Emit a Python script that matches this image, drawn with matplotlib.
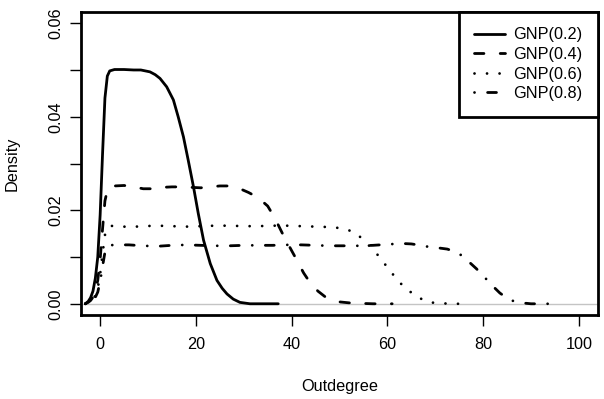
import matplotlib
matplotlib.use('Agg')
import matplotlib.pyplot as plt

plt.rcParams['font.family'] = ['Liberation Sans', 'DejaVu Sans']

# density curves (outdegree vs density)
x_02 = [-3.1, -2.5, -2.0, -1.5, -1.0, -0.5, 0.0, 0.5, 1.0, 1.5, 2.0, 3.0, 5.0, 7.0, 8.5,
        10.4, 11.5, 12.5, 13.9, 15.3, 16.3, 17.4, 18.4, 19.5, 20.5, 21.6, 23.0, 24.4, 25.5,
        26.5, 27.8, 29.2, 31.3, 34.0, 37.2]
y_02 = [0.0, 0.0005, 0.0013, 0.0027, 0.0055, 0.0100, 0.0190, 0.0320, 0.0440, 0.0487, 0.0498,
        0.0501, 0.0501, 0.0500, 0.0500, 0.0496, 0.0490, 0.0482, 0.0464, 0.0436, 0.0400, 0.0357,
        0.0307, 0.0250, 0.0193, 0.0136, 0.0086, 0.0050, 0.0033, 0.0021, 0.0010, 0.0003, 0.0,
        0.0, 0.0]

x_04 = [-3.1, -2.5, -2.0, -1.5, -1.0, -0.5, 0.0, 0.5, 1.0, 1.5, 2.0, 3.0, 5, 7, 9, 11, 13,
        15, 17, 19, 21, 23, 25, 27, 29, 31, 33, 35, 36.5, 38, 39.5, 41, 42.5, 44, 45.5, 47,
        48.5, 50, 52, 54, 57, 61]
y_04 = [0.0, 0.0003, 0.0007, 0.0014, 0.0028, 0.0050, 0.0095, 0.0160, 0.0220, 0.0243, 0.0250,
        0.0252, 0.0253, 0.0250, 0.0246, 0.0246, 0.0249, 0.0250, 0.0250, 0.0249, 0.0248, 0.0250,
        0.0252, 0.0252, 0.0247, 0.0238, 0.0227, 0.0209, 0.0183, 0.0152, 0.0123, 0.0095, 0.0066,
        0.0043, 0.0027, 0.0015, 0.0008, 0.0004, 0.0002, 0.0001, 0.0, 0.0]

x_06 = [-3.1, -2.5, -2.0, -1.5, -1.0, -0.5, 0.0, 0.5, 1.0, 1.5, 2.0, 3, 6, 9, 12, 15, 18, 21,
        24, 27, 30, 33, 36, 39, 42, 45, 48, 50, 52, 53.6, 55.3, 57.4, 59, 60.7, 62.3, 64.2,
        66.5, 68.9, 71, 74, 77]
y_06 = [0.0, 0.0002, 0.0004, 0.0009, 0.0018, 0.0033, 0.0063, 0.0107, 0.0147, 0.0162, 0.0166,
        0.0167, 0.0164, 0.0166, 0.0167, 0.0166, 0.0165, 0.0166, 0.0167, 0.0167, 0.0166, 0.0166,
        0.0167, 0.0167, 0.0166, 0.0165, 0.0164, 0.0162, 0.0157, 0.0150, 0.0133, 0.0112, 0.0091,
        0.0069, 0.0048, 0.0030, 0.0013, 0.0003, 0.0001, 0.0, 0.0]

x_08 = [-3.1, -2.5, -2.0, -1.5, -1.0, -0.5, 0.0, 0.5, 1.0, 1.5, 2.0, 3, 6, 9, 12, 15, 18, 21,
        24, 27, 30, 33, 36, 39, 42, 45, 48, 51, 54, 57, 60, 63, 65, 67, 69, 71, 72.5, 74, 75.6,
        77, 78.6, 80, 81, 82.3, 83.5, 85, 86.5, 88, 90, 93.6]
y_08 = [0.0, 0.0001, 0.0003, 0.0007, 0.0014, 0.0025, 0.0048, 0.0080, 0.0110, 0.0122, 0.0125,
        0.0126, 0.0126, 0.0124, 0.0123, 0.0125, 0.0126, 0.0125, 0.0124, 0.0124, 0.0125, 0.0125,
        0.0125, 0.0126, 0.0126, 0.0125, 0.0124, 0.0124, 0.0124, 0.0125, 0.0127, 0.0129, 0.0128,
        0.0125, 0.0121, 0.0119, 0.0117, 0.0112, 0.0103, 0.0090, 0.0075, 0.0060, 0.0049, 0.0035,
        0.0023, 0.0012, 0.0005, 0.0002, 0.0, 0.0]

labels = ['GNP(0.2)', 'GNP(0.4)', 'GNP(0.6)', 'GNP(0.8)']
styles = ['-', (0, (3.4, 5.85)), (0, (0.01, 4.5)), (0, (0.01, 4.7, 3.2, 4.7))]
xticks = [0, 20, 40, 60, 80, 100]
yticks = [0.00, 0.01, 0.02, 0.03, 0.04, 0.05, 0.06]
ytick_labels = ['0.00', '', '0.02', '', '0.04', '', '0.06']

fs = 11.7
fig = plt.figure(figsize=(6.04, 3.99), dpi=100)
ax = fig.add_axes([81 / 604, 84 / 399, 517 / 604, 303 / 399])

ax.axhline(0, color='#c4c4c4', lw=1.0, zorder=1)
series = [(x_02, y_02), (x_04, y_04), (x_06, y_06), (x_08, y_08)]
for (xs, ys), lab, ls in zip(series, labels, styles):
    ax.plot(xs, ys, color='black', lw=2.0, linestyle=ls, label=lab,
            dash_capstyle='round', solid_capstyle='round', zorder=3)

ax.set_xlim(-4, 104)
ax.set_ylim(-0.0024, 0.0624)
ax.set_xticks(xticks)
ax.set_xticklabels([str(t) for t in xticks], fontsize=fs)
ax.set_yticks(yticks)
ax.set_yticklabels(ytick_labels, fontsize=fs, rotation=90, va='center')
ax.tick_params(axis='both', direction='out', length=8, width=1.0, color='black')
ax.tick_params(axis='x', pad=8)
ax.tick_params(axis='y', pad=5)
for sp in ax.spines.values():
    sp.set_linewidth(2.0)
    sp.set_color('black')

ax.set_xlabel('Outdegree', fontsize=fs, va='center')
ax.xaxis.set_label_coords(0.5, (315 - 387) / 303)
ax.set_ylabel('Density', fontsize=fs, va='center', ha='center')
ax.yaxis.set_label_coords((12 - 81) / 517, 0.5)

leg = ax.legend(loc='upper right', fontsize=fs, frameon=True, fancybox=False,
                borderaxespad=0, handlelength=1.85, handletextpad=0.55,
                borderpad=0.95, labelspacing=0.28)
leg.get_frame().set_edgecolor('black')
leg.get_frame().set_linewidth(2.0)
leg.get_frame().set_alpha(1.0)

fig.savefig('out.png', dpi=100)
